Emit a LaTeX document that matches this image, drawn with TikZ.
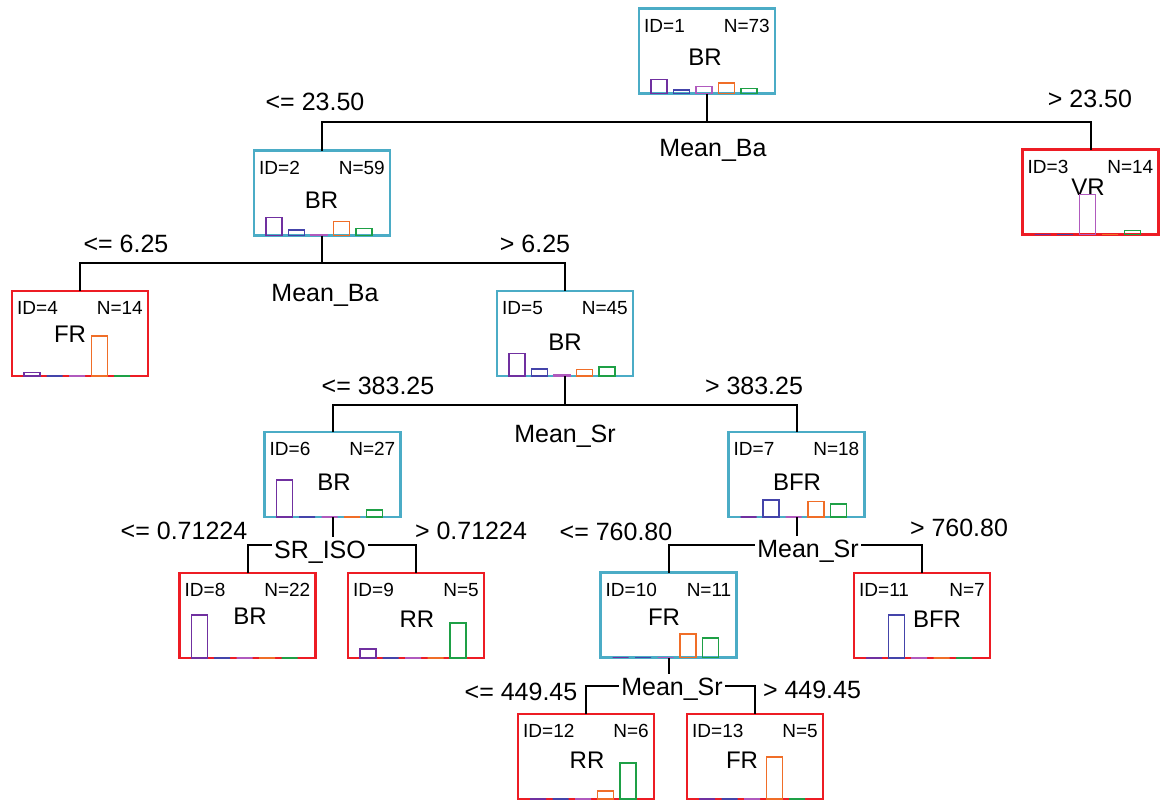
\documentclass[tikz,border=0pt]{standalone}
\usepackage{fontspec}
\setmainfont{Liberation Sans}
\usetikzlibrary{calc}
\definecolor{boxcyan}{RGB}{75,172,198}
\definecolor{boxred}{RGB}{237,28,36}
\definecolor{c0}{RGB}{112,48,160}
\definecolor{c1}{RGB}{68,68,170}
\definecolor{c2}{RGB}{176,90,190}
\definecolor{c3}{RGB}{240,110,40}
\definecolor{c4}{RGB}{30,160,70}
\tikzset{
 box/.style={draw, line width=2.5pt, minimum width=136pt, minimum height=85pt, inner sep=0pt, outer sep=0pt},
 inbox/.style={box, draw=boxcyan},
 leaf/.style={box, draw=boxred},
 txt/.style={inner sep=0pt, text depth=0pt},
 idt/.style={txt, text height=13.8pt, font=\fontsize{19}{19}\selectfont},
 cls/.style={txt, text height=17.4pt, font=\fontsize{24}{24}\selectfont},
 lab/.style={txt, text height=18.1pt, font=\fontsize{25}{25}\selectfont},
 onlab/.style={lab, fill=white, inner xsep=2pt, inner ysep=3pt},
 lnk/.style={line width=2pt, black},
 bar/.style={line width=1.6pt},
}
\newcommand\tnode[8]{%
 \node[#2] (#1) at (#3,#4) {};
 \node[idt, anchor=west] (#1id) at ($(#1.north west)+(5,17)$) {ID=#5};
 \node[idt, anchor=east] (#1n) at ($(#1.north east)+(-5,17)$) {N=#6};
 \node[cls] (#1c) at #8 {#7};
}
\newcommand\bars[6]{%
 \foreach \h [count=\i from 0] in {#2,#3,#4,#5,#6}{%
  \draw[bar, draw=c\i] ($(#1.south west)+(12+22.5*\i,0)$) rectangle ++(16,-\h);}%
}
\begin{document}
\begin{tikzpicture}[x=1pt,y=-1pt]
\useasboundingbox (0,0) rectangle (1160,801);
% connectors
\coordinate (s1) at (707,122);
\coordinate (s2) at (322,263);
\coordinate (s5) at (565,405);
\coordinate (s6) at (333,545);
\coordinate (s7) at (797,545);
\coordinate (s10) at (669,686);
% nodes
\tnode{n1}{inbox}{707}{51}{1}{73}{BR}{(705,57)}
\tnode{n2}{inbox}{322}{193}{2}{59}{BR}{(321.5,200)}
\tnode{n3}{leaf}{1090.5}{192}{3}{14}{VR}{(1088,187)}
\tnode{n4}{leaf}{80}{333.5}{4}{14}{FR}{(70,334)}
\tnode{n5}{inbox}{565}{333.5}{5}{45}{BR}{(565,342)}
\tnode{n6}{inbox}{332.5}{474.5}{6}{27}{BR}{(334,482)}
\tnode{n7}{inbox}{796.5}{474.5}{7}{18}{BFR}{(797,482)}
\tnode{n8}{leaf}{247.5}{615.5}{8}{22}{BR}{(250,616)}
\tnode{n9}{leaf}{416}{615.5}{9}{5}{RR}{(417,619)}
\tnode{n10}{inbox}{668.5}{615}{10}{11}{FR}{(664,617)}
\tnode{n11}{leaf}{922}{615.5}{11}{7}{BFR}{(937,619)}
\tnode{n12}{leaf}{586}{756.5}{12}{6}{RR}{(587,760)}
\tnode{n13}{leaf}{755}{756.5}{13}{5}{FR}{(742,760)}
% bars
\bars{n1}{14}{3.5}{7}{10.5}{5}
\bars{n2}{18}{5.5}{1}{14}{7}
\bars{n3}{0}{0}{40}{0}{4}
\bars{n4}{3.5}{0}{0}{40}{0}
\bars{n5}{22.5}{7}{1}{6.5}{9}
\bars{n6}{37}{0}{0}{0}{7}
\bars{n7}{0}{17}{0}{15.5}{13}
\bars{n8}{43}{0}{0}{0}{0}
\bars{n9}{9}{0}{0}{0}{35}
\bars{n10}{0}{0}{0}{23.5}{19.5}
\bars{n11}{0}{43}{0}{0}{0}
\bars{n12}{0}{0}{0}{8}{36}
\bars{n13}{0}{0}{0}{42}{0}
% connector lines
\draw[lnk] (n1.south) -- (n1.south |- s1);
\draw[lnk] (n2.north) -- (n2.north |- s1) -- (n3.north |- s1) -- (n3.north);
\draw[lnk] (n2.south) -- (n2.south |- s2);
\draw[lnk] (n4.north) -- (n4.north |- s2) -- (n5.north |- s2) -- (n5.north);
\draw[lnk] (n5.south) -- (n5.south |- s5);
\draw[lnk] (n6.north) -- (n6.north |- s5) -- (n7.north |- s5) -- (n7.north);
\draw[lnk] (n6.south) -- (n6.south |- s6);
\draw[lnk] (n8.north) -- (n8.north |- s6) -- (n9.north |- s6) -- (n9.north);
\draw[lnk] (n7.south) -- (n7.south |- s7);
\draw[lnk] (n10.north) -- (n10.north |- s7) -- (n11.north |- s7) -- (n11.north);
\draw[lnk] (n10.south) -- (n10.south |- s10);
\draw[lnk] (n12.north) -- (n12.north |- s10) -- (n13.north |- s10) -- (n13.north);
% split labels
\node[lab] (l1a) at (315,101) {<= 23.50};
\node[lab] (l1b) at (1090,98) {> 23.50};
\node[lab] (l1v) at (713,147) {Mean\_Ba};
\node[lab] (l2a) at (126,243) {<= 6.25};
\node[lab] (l2b) at (535,243) {> 6.25};
\node[lab] (l2v) at (325,292) {Mean\_Ba};
\node[lab] (l5a) at (378,385) {<= 383.25};
\node[lab] (l5b) at (754,385) {> 383.25};
\node[lab] (l5v) at (565,433) {Mean\_Sr};
\node[lab] (l6a) at (184,530) {<= 0.71224};
\node[lab] (l6b) at (471,530) {> 0.71224};
\node[onlab] (l6v) at (320,549) {SR\_ISO};
\node[lab] (l7a) at (616,531) {<= 760.80};
\node[lab] (l7b) at (959,527) {> 760.80};
\node[onlab] (l7v) at (808,548) {Mean\_Sr};
\node[onlab] (l10v) at (672,686) {Mean\_Sr};
\node[lab] (l10a) at (521,691) {<= 449.45};
\node[lab] (l10b) at (812,689) {> 449.45};
\end{tikzpicture}
\end{document}
